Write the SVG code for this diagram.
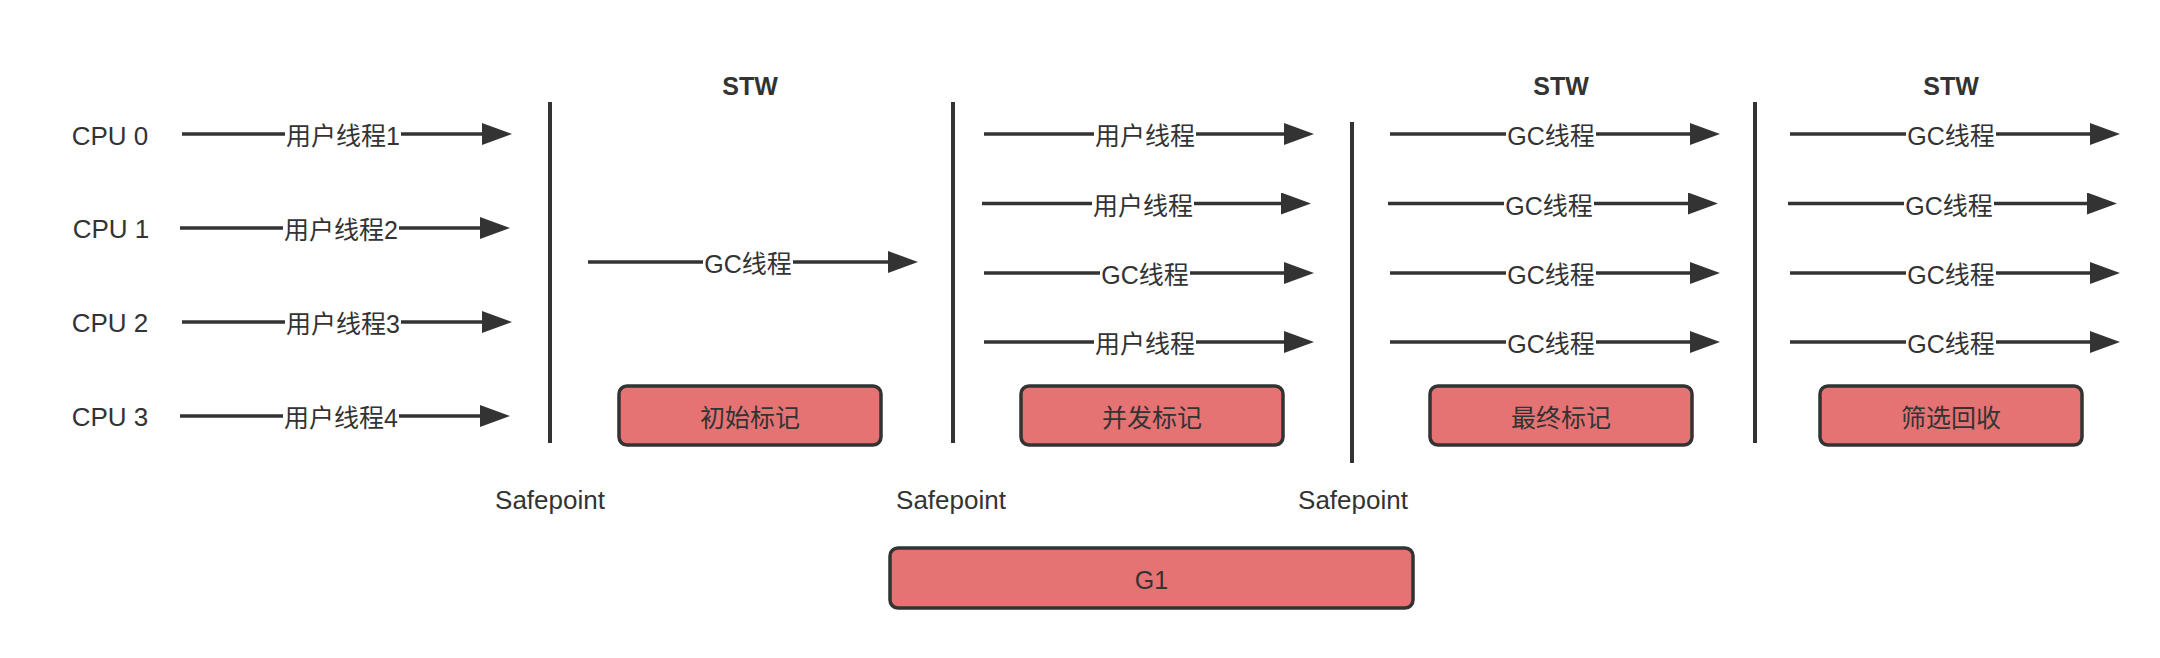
<svg xmlns="http://www.w3.org/2000/svg" width="2160" height="658" viewBox="0 0 2160 658">
<style>
text{font-family:"Liberation Sans","Noto Sans CJK SC",sans-serif;fill:#333333}
.cpu{font-size:26px;text-anchor:middle}
.lbl{font-size:25px;text-anchor:middle}
.stw{font-size:25px;font-weight:bold;text-anchor:middle}
.sp{font-size:26px;text-anchor:middle}
.box{fill:#E57373;stroke:#333333;stroke-width:3.5}
.bt{font-size:25px;text-anchor:middle}
.arr{stroke:#333333;stroke-width:3.5;fill:none;marker-end:url(#ah)}
.vl{stroke:#333333;stroke-width:4}
.bg{fill:#ffffff}
</style>
<defs>
<marker id="ah" markerUnits="userSpaceOnUse" markerWidth="30" markerHeight="22" refX="2" refY="11" orient="auto" viewBox="0 0 30 22">
<path d="M0,0 L30,11 L0,22 Z" fill="#333333"/>
</marker>
</defs>
<rect width="2160" height="658" fill="#ffffff"/>

<g id="cpu-labels">
<text class="cpu" x="110" y="145">CPU 0</text>
<text class="cpu" x="111" y="238">CPU 1</text>
<text class="cpu" x="110" y="332">CPU 2</text>
<text class="cpu" x="110" y="426">CPU 3</text>
</g>

<g id="stw-labels">
<text class="stw" x="750" y="95">STW</text>
<text class="stw" x="1561" y="95">STW</text>
<text class="stw" x="1951" y="95">STW</text>
</g>

<g id="safepoints">
<text class="sp" x="550" y="509">Safepoint</text>
<text class="sp" x="951" y="509">Safepoint</text>
<text class="sp" x="1353" y="509">Safepoint</text>
</g>

<g id="boundaries">
<line class="vl" x1="550" y1="102" x2="550" y2="443"/>
<line class="vl" x1="953" y1="102" x2="953" y2="443"/>
<line class="vl" x1="1352" y1="122" x2="1352" y2="463"/>
<line class="vl" x1="1755" y1="102" x2="1755" y2="443"/>
</g>

<g id="connectors">
<!-- CPU user threads -->
<line class="arr" x1="182" y1="134" x2="484" y2="134"/>
<line class="arr" x1="180" y1="228" x2="482" y2="228"/>
<line class="arr" x1="182" y1="322" x2="484" y2="322"/>
<line class="arr" x1="180" y1="416" x2="482" y2="416"/>
<!-- initial mark -->
<line class="arr" x1="588" y1="262" x2="890" y2="262"/>
<!-- concurrent mark -->
<line class="arr" x1="984" y1="134" x2="1286" y2="134"/>
<line class="arr" x1="982" y1="203.5" x2="1283" y2="203.5"/>
<line class="arr" x1="984" y1="273" x2="1286" y2="273"/>
<line class="arr" x1="984" y1="342" x2="1286" y2="342"/>
<!-- remark -->
<line class="arr" x1="1390" y1="134" x2="1692" y2="134"/>
<line class="arr" x1="1388" y1="203.5" x2="1690" y2="203.5"/>
<line class="arr" x1="1390" y1="273" x2="1692" y2="273"/>
<line class="arr" x1="1390" y1="342" x2="1692" y2="342"/>
<!-- cleanup -->
<line class="arr" x1="1790" y1="134" x2="2092" y2="134"/>
<line class="arr" x1="1788" y1="203.5" x2="2089" y2="203.5"/>
<line class="arr" x1="1790" y1="273" x2="2092" y2="273"/>
<line class="arr" x1="1790" y1="342" x2="2092" y2="342"/>

<!-- labels -->
<rect class="bg" x="285" y="121" width="116" height="28"/><text class="lbl" x="343" y="145">用户线程1</text>
<rect class="bg" x="283" y="215" width="116" height="28"/><text class="lbl" x="341" y="239">用户线程2</text>
<rect class="bg" x="285" y="309" width="116" height="28"/><text class="lbl" x="343" y="333">用户线程3</text>
<rect class="bg" x="283" y="403" width="116" height="28"/><text class="lbl" x="341" y="427">用户线程4</text>

<rect class="bg" x="703" y="249" width="90" height="28"/><text class="lbl" x="748" y="273">GC线程</text>

<rect class="bg" x="1094" y="121" width="102" height="28"/><text class="lbl" x="1145" y="145">用户线程</text>
<rect class="bg" x="1092" y="190.5" width="102" height="28"/><text class="lbl" x="1143" y="214.5">用户线程</text>
<rect class="bg" x="1100" y="260" width="90" height="28"/><text class="lbl" x="1145" y="284">GC线程</text>
<rect class="bg" x="1094" y="329" width="102" height="28"/><text class="lbl" x="1145" y="353">用户线程</text>

<rect class="bg" x="1506" y="121" width="90" height="28"/><text class="lbl" x="1551" y="145">GC线程</text>
<rect class="bg" x="1504" y="190.5" width="90" height="28"/><text class="lbl" x="1549" y="214.5">GC线程</text>
<rect class="bg" x="1506" y="260" width="90" height="28"/><text class="lbl" x="1551" y="284">GC线程</text>
<rect class="bg" x="1506" y="329" width="90" height="28"/><text class="lbl" x="1551" y="353">GC线程</text>

<rect class="bg" x="1906" y="121" width="90" height="28"/><text class="lbl" x="1951" y="145">GC线程</text>
<rect class="bg" x="1904" y="190.5" width="90" height="28"/><text class="lbl" x="1949" y="214.5">GC线程</text>
<rect class="bg" x="1906" y="260" width="90" height="28"/><text class="lbl" x="1951" y="284">GC线程</text>
<rect class="bg" x="1906" y="329" width="90" height="28"/><text class="lbl" x="1951" y="353">GC线程</text>
</g>

<g id="initial-mark">
<rect class="box" x="619" y="386" width="262" height="59" rx="8"/>
<text class="bt" x="750" y="427">初始标记</text>
</g>
<g id="concurrent-mark">
<rect class="box" x="1021" y="386" width="262" height="59" rx="8"/>
<text class="bt" x="1152" y="427">并发标记</text>
</g>
<g id="remark">
<rect class="box" x="1430" y="386" width="262" height="59" rx="8"/>
<text class="bt" x="1561" y="427">最终标记</text>
</g>
<g id="cleanup">
<rect class="box" x="1820" y="386" width="262" height="59" rx="8"/>
<text class="bt" x="1951" y="427">筛选回收</text>
</g>
<g id="g1">
<rect class="box" x="890" y="548" width="523" height="60" rx="8"/>
<text class="bt" x="1151.5" y="589">G1</text>
</g>
</svg>
